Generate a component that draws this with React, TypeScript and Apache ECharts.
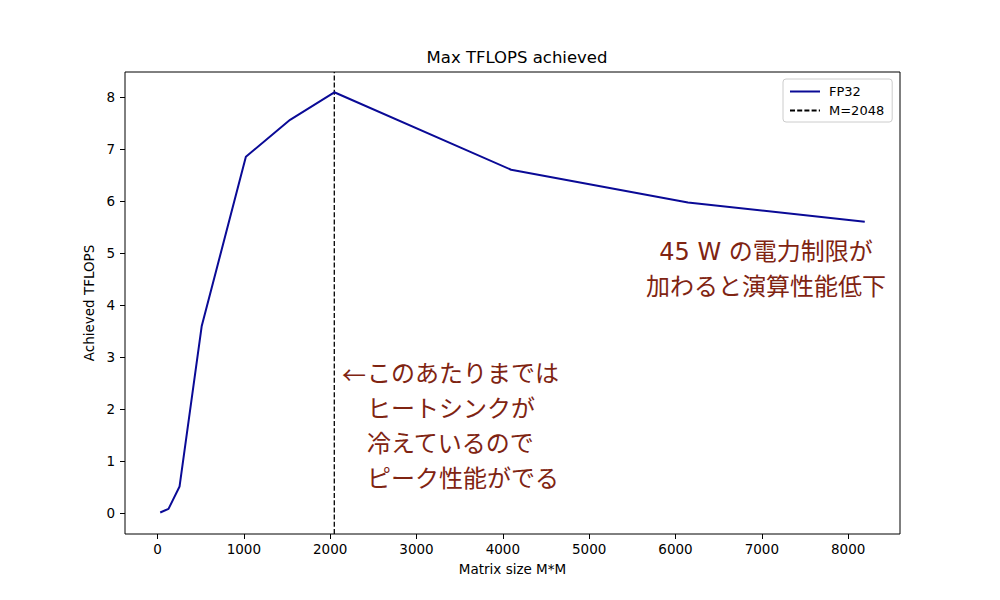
import React, { useEffect, useRef } from "react";
import * as echarts from "echarts";

const matrixSizes = [32, 128, 256, 512, 1024, 1536, 2048, 4096, 6144, 8192];
const fp32Tflops = [0.01, 0.08, 0.51, 3.59, 6.85, 7.56, 8.09, 6.6, 5.97, 5.6];
const peakM = 2048;
const xTicks = [0, 1000, 2000, 3000, 4000, 5000, 6000, 7000, 8000];
const yTicks = [0, 1, 2, 3, 4, 5, 6, 7, 8];
const noteRight = ["45 W の電力制限が", "加わると演算性能低下"];
const noteLeft = ["このあたりまでは", "ヒートシンクが", "冷えているので", "ピーク性能がでる"];

const X_MIN = -376;
const X_MAX = 8600;
const Y_MIN = -0.404;
const Y_MAX = 8.48;

const FONT = "'DejaVu Sans', 'Noto Sans CJK JP', sans-serif";
const NOTE_COLOR = "#7f2412";

export default function App() {
  const ref = useRef<HTMLDivElement>(null);
  useEffect(() => {
    document.body.style.margin = "0";
    if (!ref.current) return;
    const chart = echarts.init(ref.current, undefined, { renderer: "svg" });
    const graphics: any[] = [];
    noteRight.forEach((t, i) => {
      graphics.push({
        type: "text",
        x: 766,
        y: 252 + i * 34.5,
        style: {
          text: t,
          fontSize: 24,
          fontFamily: FONT,
          fill: NOTE_COLOR,
          textAlign: "center",
          textVerticalAlign: "middle",
        },
      });
    });
    graphics.push({
      type: "text",
      x: 342,
      y: 373,
      style: {
        text: "←",
        fontSize: 24,
        fontFamily: "'Noto Sans CJK JP', sans-serif",
        fill: NOTE_COLOR,
        textAlign: "left",
        textVerticalAlign: "middle",
      },
    });
    noteLeft.forEach((t, i) => {
      graphics.push({
        type: "text",
        x: 367,
        y: 374 + i * 35,
        style: {
          text: t,
          fontSize: 24,
          fontFamily: FONT,
          fill: NOTE_COLOR,
          textAlign: "left",
          textVerticalAlign: "middle",
        },
      });
    });

    chart.setOption({
      animation: false,
      backgroundColor: "#ffffff",
      textStyle: { fontFamily: FONT },
      title: {
        text: "Max TFLOPS achieved",
        left: 512,
        top: 44,
        textAlign: "center",
        textStyle: { fontSize: 16.5, fontWeight: "normal", color: "#000", fontFamily: FONT },
      },
      grid: {
        left: 125,
        right: 100,
        top: 72,
        bottom: 66,
        show: true,
        borderColor: "#000",
        borderWidth: 1,
        backgroundColor: "transparent",
      },
      legend: {
        orient: "vertical",
        left: 783,
        top: 79,
        padding: [6, 8, 5, 6],
        itemWidth: 30,
        itemHeight: 14,
        itemGap: 6,
        borderColor: "#cccccc",
        borderWidth: 1,
        borderRadius: 3,
        backgroundColor: "rgba(255,255,255,0.8)",
        itemStyle: { opacity: 0 },
        textStyle: { fontSize: 13, color: "#000", fontFamily: FONT, padding: [0, 0, 0, 4] },
        data: ["FP32", "M=" + peakM],
      },
      xAxis: {
        type: "value",
        min: X_MIN,
        max: X_MAX,
        name: "Matrix size M*M",
        nameLocation: "middle",
        nameGap: 28,
        nameTextStyle: { fontSize: 13.5, color: "#000", fontFamily: FONT },
        axisLine: { show: false, onZero: false },
        splitLine: { show: false },
        axisTick: { show: true, length: 5, lineStyle: { color: "#000" }, customValues: xTicks },
        axisLabel: {
          fontSize: 13.5,
          color: "#000",
          margin: 8,
          fontFamily: FONT,
          customValues: xTicks,
          formatter: (v: number) => String(v),
        },
      },
      yAxis: {
        type: "value",
        min: Y_MIN,
        max: Y_MAX,
        name: "Achieved TFLOPS",
        nameLocation: "middle",
        nameGap: 25,
        nameTextStyle: { fontSize: 13.5, color: "#000", fontFamily: FONT },
        axisLine: { show: false, onZero: false },
        splitLine: { show: false },
        axisTick: { show: true, length: 5, lineStyle: { color: "#000" }, customValues: yTicks },
        axisLabel: {
          fontSize: 13.5,
          color: "#000",
          margin: 10,
          fontFamily: FONT,
          customValues: yTicks,
          formatter: (v: number) => String(v),
        },
      },
      series: [
        {
          name: "FP32",
          type: "line",
          symbol: "none",
          data: matrixSizes.map((m, i) => [m, fp32Tflops[i]]),
          lineStyle: { color: "#0a0a96", width: 2 },
          itemStyle: { color: "#0a0a96" },
          z: 3,
        },
        {
          name: "M=" + peakM,
          type: "line",
          symbol: "none",
          data: [
            [peakM, Y_MIN],
            [peakM, Y_MAX],
          ],
          lineStyle: { color: "#000", width: 1.3, type: [5, 2.2] },
          itemStyle: { color: "#000" },
          z: 2,
        },
      ],
      graphic: graphics,
    });
    return () => chart.dispose();
  }, []);
  return <div ref={ref} style={{ width: 1000, height: 600 }} />;
}
